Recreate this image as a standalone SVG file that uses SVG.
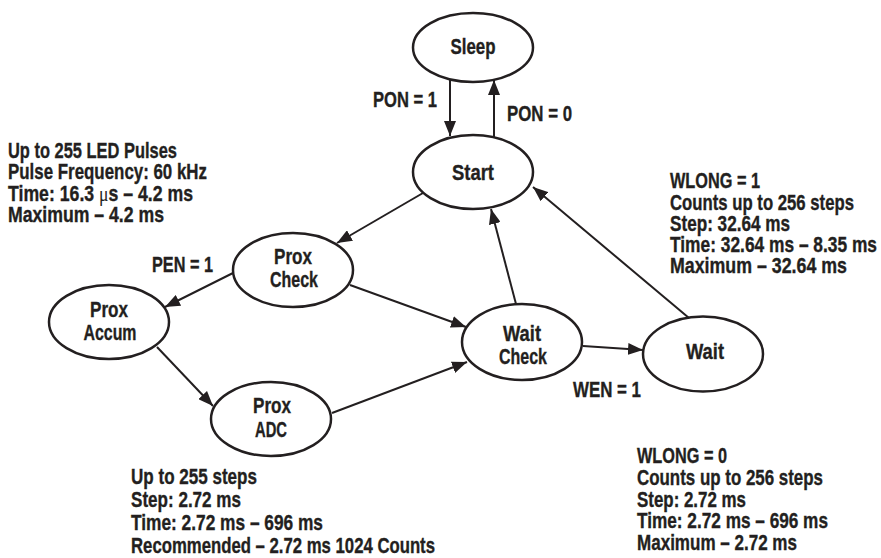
<svg xmlns="http://www.w3.org/2000/svg" width="881" height="558" viewBox="0 0 881 558">
<defs>
<style>
.node ellipse{fill:#fff;stroke:#231f20;stroke-width:2.5}
text{font-family:"Liberation Sans",Arial,sans-serif;font-weight:bold;font-size:22px;fill:#231f20;stroke:#231f20;stroke-width:0.35}
.c{text-anchor:middle}
.mu{font-family:"Liberation Serif","Times New Roman",serif;font-weight:normal;stroke-width:0}
#connectors line{stroke:#231f20;stroke-width:2;marker-end:url(#arr)}
</style>
<marker id="arr" viewBox="0 0 15 12" refX="15" refY="6" markerWidth="15" markerHeight="12" orient="auto" markerUnits="userSpaceOnUse">
<path d="M0,0 L15,6 L0,12 z" fill="#231f20"/>
</marker>
</defs>
<rect width="881" height="558" fill="#fff"/>
<g id="connectors">
<line x1="450" y1="80" x2="450" y2="136"/>
<line x1="494" y1="137" x2="494" y2="80"/>
<line x1="423" y1="193" x2="337" y2="243"/>
<line x1="233" y1="273" x2="165" y2="307"/>
<line x1="350" y1="285" x2="466" y2="327"/>
<line x1="157" y1="347" x2="213" y2="406"/>
<line x1="332" y1="413" x2="467" y2="362"/>
<line x1="516" y1="304" x2="491" y2="209"/>
<line x1="689" y1="318" x2="533" y2="187"/>
<line x1="583" y1="346" x2="643" y2="350"/>
</g>
<g id="sleep" class="node"><ellipse cx="473" cy="47.5" rx="60" ry="34.5"/><text class="c" x="473" y="54" textLength="45" lengthAdjust="spacingAndGlyphs">Sleep</text></g>
<g id="start" class="node"><ellipse cx="473" cy="172" rx="60" ry="37"/><text class="c" x="473" y="180" textLength="42" lengthAdjust="spacingAndGlyphs">Start</text></g>
<g id="proxcheck" class="node"><ellipse cx="293" cy="270" rx="60" ry="37"/><text class="c" x="293" y="264" textLength="38" lengthAdjust="spacingAndGlyphs">Prox</text><text class="c" x="294" y="287" textLength="48" lengthAdjust="spacingAndGlyphs">Check</text></g>
<g id="proxaccum" class="node"><ellipse cx="109" cy="322" rx="60" ry="37"/><text class="c" x="109" y="317" textLength="38" lengthAdjust="spacingAndGlyphs">Prox</text><text class="c" x="110" y="340" textLength="53" lengthAdjust="spacingAndGlyphs">Accum</text></g>
<g id="proxadc" class="node"><ellipse cx="271" cy="419" rx="60" ry="37"/><text class="c" x="272" y="413" textLength="38" lengthAdjust="spacingAndGlyphs">Prox</text><text class="c" x="271" y="437" textLength="32" lengthAdjust="spacingAndGlyphs">ADC</text></g>
<g id="waitcheck" class="node"><ellipse cx="522" cy="342" rx="60" ry="38"/><text class="c" x="522" y="341" textLength="38" lengthAdjust="spacingAndGlyphs">Wait</text><text class="c" x="523" y="364" textLength="48" lengthAdjust="spacingAndGlyphs">Check</text></g>
<g id="wait" class="node"><ellipse cx="703" cy="354" rx="60" ry="37.5"/><text class="c" x="705" y="359" textLength="38" lengthAdjust="spacingAndGlyphs">Wait</text></g>
<g id="labels">
<text x="373" y="107" textLength="64" lengthAdjust="spacingAndGlyphs">PON = 1</text>
<text x="507" y="121" textLength="65" lengthAdjust="spacingAndGlyphs">PON = 0</text>
<text x="152" y="272" textLength="61" lengthAdjust="spacingAndGlyphs">PEN = 1</text>
<text x="573" y="397" textLength="68" lengthAdjust="spacingAndGlyphs">WEN = 1</text>
</g>
<g id="note-led">
<text x="8" y="158" textLength="169" lengthAdjust="spacingAndGlyphs">Up to 255 LED Pulses</text>
<text x="8" y="179" textLength="199" lengthAdjust="spacingAndGlyphs">Pulse Frequency: 60 kHz</text>
<text x="8" y="201" textLength="185" lengthAdjust="spacingAndGlyphs">Time: 16.3 <tspan class="mu">μ</tspan>s – 4.2 ms</text>
<text x="8" y="222" textLength="156" lengthAdjust="spacingAndGlyphs">Maximum – 4.2 ms</text>
</g>
<g id="note-wlong1">
<text x="670" y="188" textLength="90" lengthAdjust="spacingAndGlyphs">WLONG = 1</text>
<text x="670" y="210" textLength="184" lengthAdjust="spacingAndGlyphs">Counts up to 256 steps</text>
<text x="670" y="231" textLength="120" lengthAdjust="spacingAndGlyphs">Step: 32.64 ms</text>
<text x="670" y="252" textLength="207" lengthAdjust="spacingAndGlyphs">Time: 32.64 ms – 8.35 ms</text>
<text x="670" y="273" textLength="177" lengthAdjust="spacingAndGlyphs">Maximum – 32.64 ms</text>
</g>
<g id="note-adc">
<text x="131" y="484" textLength="126" lengthAdjust="spacingAndGlyphs">Up to 255 steps</text>
<text x="131" y="507" textLength="110" lengthAdjust="spacingAndGlyphs">Step: 2.72 ms</text>
<text x="131" y="530" textLength="192" lengthAdjust="spacingAndGlyphs">Time: 2.72 ms – 696 ms</text>
<text x="131" y="553" textLength="304" lengthAdjust="spacingAndGlyphs">Recommended – 2.72 ms 1024 Counts</text>
</g>
<g id="note-wlong0">
<text x="637" y="463" textLength="90" lengthAdjust="spacingAndGlyphs">WLONG = 0</text>
<text x="637" y="485" textLength="186" lengthAdjust="spacingAndGlyphs">Counts up to 256 steps</text>
<text x="637" y="507" textLength="109" lengthAdjust="spacingAndGlyphs">Step: 2.72 ms</text>
<text x="637" y="528" textLength="191" lengthAdjust="spacingAndGlyphs">Time: 2.72 ms – 696 ms</text>
<text x="637" y="550" textLength="160" lengthAdjust="spacingAndGlyphs">Maximum – 2.72 ms</text>
</g>
</svg>
